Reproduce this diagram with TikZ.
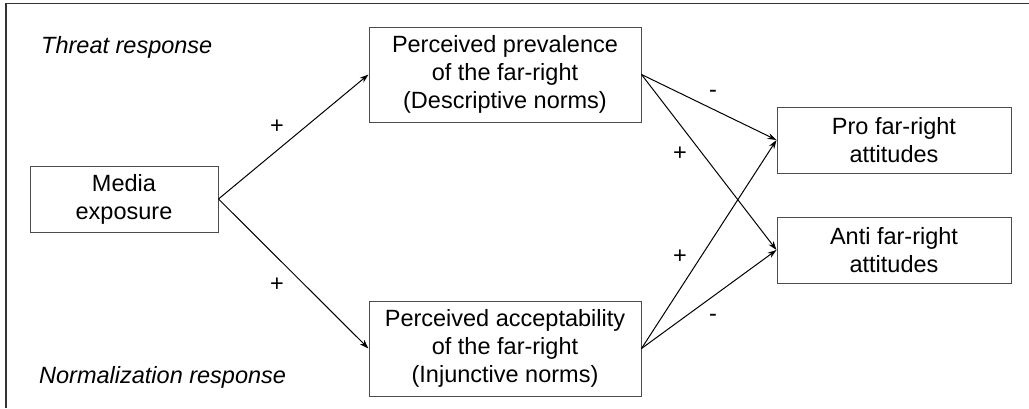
\documentclass[tikz,border=0pt]{standalone}
\usepackage{fontspec}
\setmainfont{Liberation Sans}
\usetikzlibrary{arrows.meta}
\begin{document}
\begin{tikzpicture}[x=1pt,y=1pt,
  box/.style={draw=black!70, line width=1pt, inner sep=0pt, align=center,
    font=\fontsize{23.5}{28}\selectfont},
  conn/.style={-{Stealth[length=9pt,width=6pt]}, line width=1pt},
  sign/.style={font=\fontsize{23.5}{28}\selectfont, inner sep=0pt},
  resp/.style={font=\fontsize{23.5}{28}\selectfont\itshape, inner sep=0pt, anchor=west}]
\useasboundingbox (0,0) rectangle (1029,-408);
\draw[black!80, line width=1.3pt] (6,-408) -- (6,-3.5) -- (1029,-3.5);
\node[box, minimum width=188pt, minimum height=66pt] (media) at (124,-199) {Media\\exposure};
\node[box, minimum width=272pt, minimum height=95pt] (prev) at (505,-74.5) {Perceived prevalence\\of the far-right\\(Descriptive norms)};
\node[box, minimum width=272pt, minimum height=95pt] (acc) at (505,-348.5) {Perceived acceptability\\of the far-right\\(Injunctive norms)};
\node[box, minimum width=234pt, minimum height=66pt] (pro) at (894,-140) {Pro far-right\\attitudes};
\node[box, minimum width=234pt, minimum height=66pt] (anti) at (894,-250) {Anti far-right\\attitudes};
\node[resp] (threat) at (41,-47) {Threat response};
\node[resp] (norm) at (39,-377) {Normalization response};
\draw[conn] (media.east) -- (prev.west);
\draw[conn] (media.east) -- (acc.west);
\draw[conn] (prev.east) -- (pro.west);
\draw[conn] (prev.east) -- (anti.west);
\draw[conn] (acc.east) -- (pro.west);
\draw[conn] (acc.east) -- (anti.west);
\node[sign] (s1) at (277,-127) {+};
\node[sign] (s2) at (277,-285) {+};
\node[sign] (s3) at (713,-94) {-};
\node[sign] (s4) at (680,-154) {+};
\node[sign] (s5) at (680,-257) {+};
\node[sign] (s6) at (713,-318) {-};
\end{tikzpicture}
\end{document}
